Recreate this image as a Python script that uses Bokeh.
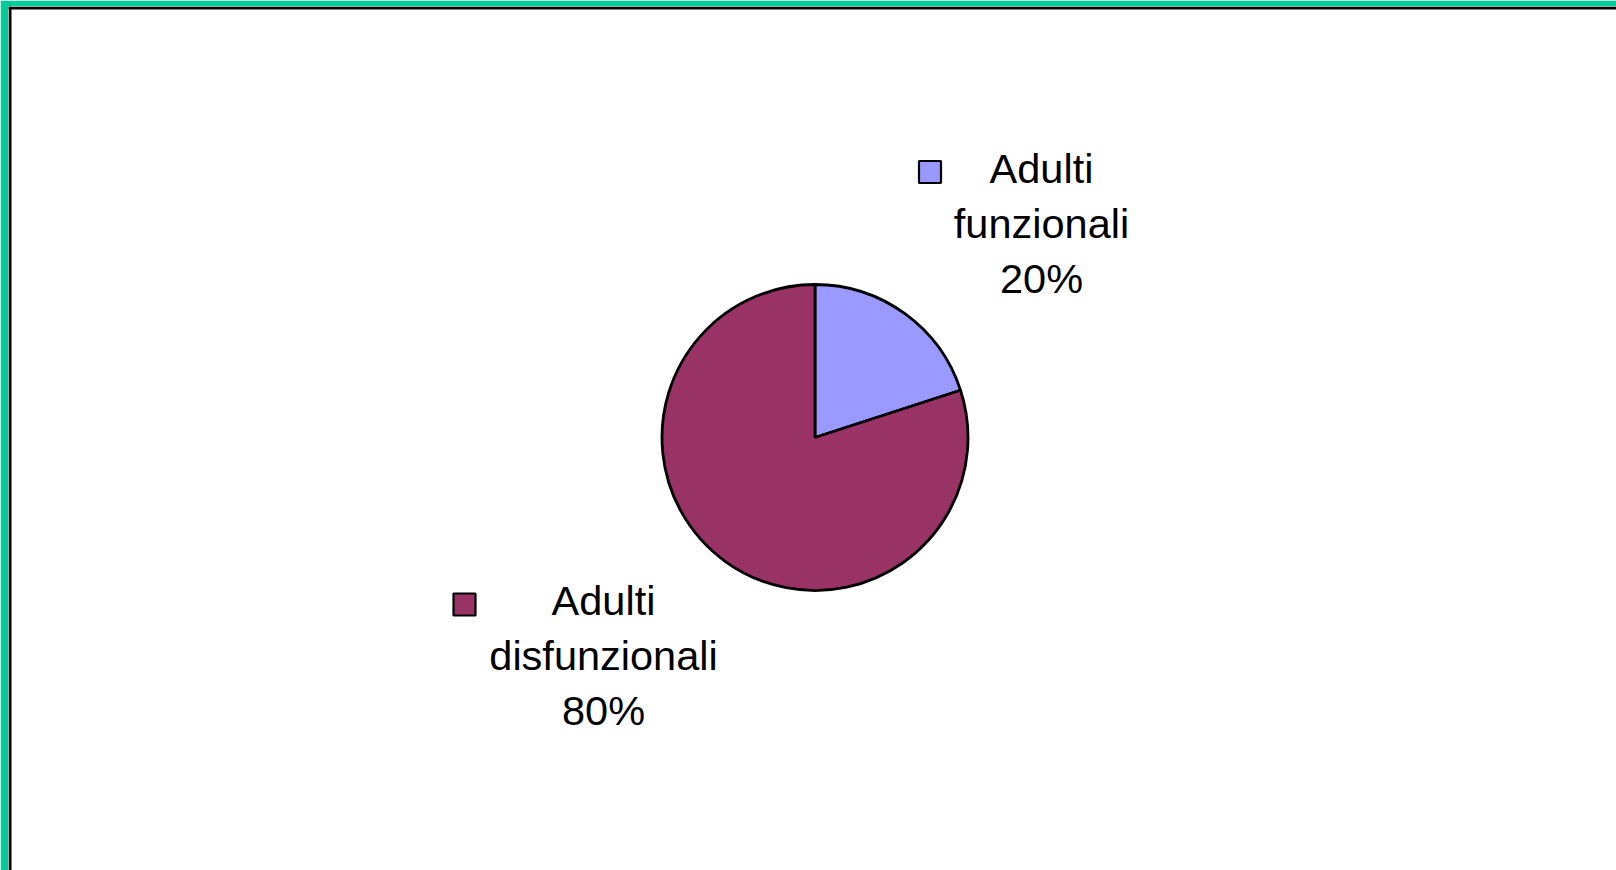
import math
from bokeh.plotting import figure
from bokeh.models import Range1d, ColumnDataSource
from bokeh.core.properties import value
from bokeh.embed import file_html
from bokeh.resources import INLINE

# ---- data ----
categories = ["Adulti funzionali", "Adulti disfunzionali"]
label_lines = [["Adulti", "funzionali"], ["Adulti", "disfunzionali"]]
shares = [20, 80]
colors = ["#9999FF", "#993366"]

# ---- layout (page pixel coordinates) ----
PAGE_W, PAGE_H = 1616, 870
def Y(py):
    return PAGE_H - py

p = figure(width=PAGE_W, height=PAGE_H, output_backend="svg", toolbar_location=None,
           x_axis_location=None, y_axis_location=None,
           x_range=Range1d(8, PAGE_W), y_range=Range1d(0, PAGE_H - 6),
           min_border_left=8, min_border_top=6, min_border_right=0, min_border_bottom=0)
p.border_fill_color = "#00CC99"
p.background_fill_color = "white"
p.outline_line_color = None
p.grid.visible = False

# black frame edges of the white slide area (left and top)
p.quad(left=[8, 8], right=[11, PAGE_W], top=[Y(6), Y(6)], bottom=[Y(PAGE_H), Y(9)],
       fill_color="black", line_color=None)

# pie: starts at 12 o'clock, clockwise
cx, cy, r = 814.5, Y(437), 153
total = sum(shares)
starts, ends = [], []
acc = 0.0
for s in shares:
    a0 = math.pi / 2 - 2 * math.pi * acc / total
    acc += s
    a1 = math.pi / 2 - 2 * math.pi * acc / total
    starts.append(a0)
    ends.append(a1)

src = ColumnDataSource(dict(x=[cx] * len(shares), y=[cy] * len(shares),
                            start=starts, end=ends, color=colors, cat=categories))
p.wedge(x="x", y="y", radius=r, radius_units="screen", start_angle="start", end_angle="end",
        direction="clock", fill_color="color", line_color="black", line_width=2.8, source=src)

# labels with legend keys
label_cx = [1041, 603]
label_base = [167.5, 599.5]
key_xy = [(929.5, 171.5), (464, 604)]
line_step = 55

p.rect(x=[k[0] for k in key_xy], y=[Y(k[1]) for k in key_xy], width=22, height=22,
       width_units="screen", height_units="screen",
       fill_color=colors, line_color="black", line_width=2.2)

tx, ty, tt = [], [], []
for i, cat in enumerate(categories):
    lines = label_lines[i] + ["%d%%" % round(100 * shares[i] / total)]
    for j, ln in enumerate(lines):
        tx.append(label_cx[i])
        ty.append(Y(label_base[i] + j * line_step))
        tt.append(ln)
p.text(x=tx, y=ty, text=tt, text_align="center", text_baseline="alphabetic",
       text_font=value("Liberation Sans"), text_font_size="41.5px", text_color="black")

open("out.html", "w").write(file_html(p, INLINE))
